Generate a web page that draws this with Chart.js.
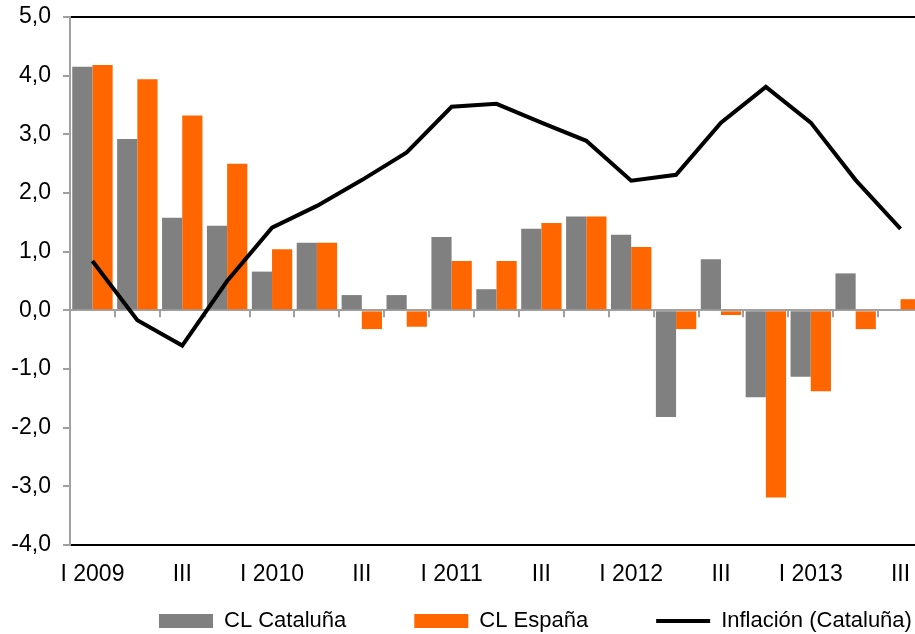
<!DOCTYPE html>
<html>
<head>
<meta charset="utf-8">
<script src="https://cdn.jsdelivr.net/npm/chart.js@4.4.1/dist/chart.umd.min.js"></script>
<style>
  html, body { margin: 0; padding: 0; background: #fff; overflow: hidden; }
  #wrap { position: relative; width: 930px; height: 634px; }
</style>
</head>
<body>
<div id="wrap"><canvas id="c"></canvas></div>
<script>
const quarters = ['I 2009','II 2009','III 2009','IV 2009','I 2010','II 2010','III 2010','IV 2010',
  'I 2011','II 2011','III 2011','IV 2011','I 2012','II 2012','III 2012','IV 2012','I 2013','II 2013','III 2013'];
const xTickLabels = ['I 2009','','III','','I 2010','','III','','I 2011','','III','','I 2012','','III','','I 2013','','III'];
const clCatalunya = [4.15, 2.92, 1.58, 1.44, 0.66, 1.15, 0.26, 0.26, 1.25, 0.36, 1.39, 1.60, 1.29, -1.82, 0.87, -1.48, -1.13, 0.63, 0.0];
const clEspana = [4.18, 3.94, 3.32, 2.50, 1.04, 1.15, -0.32, -0.28, 0.84, 0.84, 1.49, 1.60, 1.08, -0.32, -0.08, -3.19, -1.38, -0.32, 0.19];
const inflacion = [0.84, -0.17, -0.60, 0.50, 1.41, 1.78, 2.22, 2.69, 3.47, 3.52, 3.20, 2.89, 2.21, 2.31, 3.20, 3.81, 3.20, 2.22, 1.39];
const seriesNames = ['CL Cataluña', 'CL España', 'Inflación (Cataluña)'];
const yMin = -4, yMax = 5, yStep = 1;

const FONT = "'Liberation Sans', Arial, sans-serif";
Chart.defaults.font.family = FONT;
Chart.defaults.color = '#000';

const AXIS_GRAY = '#A0A0A0';

const zeroTicks = {
  id: 'zeroTicks',
  beforeDatasetsDraw(chart) {
    const xs = chart.scales.x, ys = chart.scales.y, ctx = chart.ctx;
    const y0 = ys.getPixelForValue(0);
    ctx.save();
    ctx.strokeStyle = AXIS_GRAY;
    ctx.lineWidth = 2;
    for (let i = 1; i <= quarters.length; i++) {
      const px = Math.round(xs.getPixelForValue(i - 0.5));
      ctx.beginPath();
      ctx.moveTo(px, y0);
      ctx.lineTo(px, y0 + 7);
      ctx.stroke();
    }
    ctx.restore();
  }
};

const legendPlace = {
  id: 'legendPlace',
  afterLayout(chart) {
    const lg = chart.legend;
    if (!lg) return;
    lg.left = 91; lg.right = chart.width + 400;
    lg.top = 542; lg.bottom = chart.height;
  }
};

new Chart(document.getElementById('c'), {
  data: {
    labels: quarters,
    datasets: [
      { type: 'bar', label: seriesNames[0], data: clCatalunya, backgroundColor: '#808080',
        categoryPercentage: 0.9, barPercentage: 1.0, order: 1 },
      { type: 'bar', label: seriesNames[1], data: clEspana, backgroundColor: '#FF6600',
        categoryPercentage: 0.9, barPercentage: 1.0, order: 1 },
      { type: 'line', label: seriesNames[2], data: inflacion, borderColor: '#000', backgroundColor: '#000',
        borderWidth: 4, pointRadius: 0, tension: 0, fill: false, order: 0 }
    ]
  },
  options: {
    responsive: true,
    maintainAspectRatio: false,
    animation: false,
    layout: { padding: { top: 17, right: 7, left: 0, bottom: 0 } },
    plugins: {
      tooltip: { enabled: false },
      legend: {
        position: 'bottom',
        align: 'start',
        maxHeight: 40,
        labels: {
          usePointStyle: true,
          pointStyleWidth: 54,
          boxHeight: 14,
          padding: 68,
          color: '#000',
          font: { size: 22, family: FONT },
          generateLabels(chart) {
            const items = Chart.defaults.plugins.legend.labels.generateLabels(chart);
            items.forEach(it => {
              const ds = chart.data.datasets[it.datasetIndex];
              if (ds.type === 'line') {
                it.pointStyle = 'line';
                it.lineWidth = 4;
                it.strokeStyle = '#000';
              } else {
                it.pointStyle = 'rect';
                it.lineWidth = 0;
              }
            });
            return items.sort((a, b) => a.datasetIndex - b.datasetIndex);
          }
        }
      }
    },
    scales: {
      x: {
        offset: true,
        grid: { display: false, drawTicks: false },
        border: { display: false },
        ticks: {
          autoSkip: false, maxRotation: 0, minRotation: 0, padding: 16,
          color: '#000', font: { size: 23, family: FONT },
          callback: (v, i) => xTickLabels[i]
        },
        afterFit(scale) { scale.height = 49; }
      },
      y: {
        min: yMin, max: yMax,
        grid: {
          color: (ctx) => {
            const v = ctx.tick && ctx.tick.value;
            if (v === 0) return AXIS_GRAY;
            if (v === yMax || v === yMin) return '#000';
            return 'rgba(0,0,0,0)';
          },
          lineWidth: 2,
          tickColor: AXIS_GRAY,
          tickWidth: 2,
          tickLength: 7
        },
        border: { color: AXIS_GRAY, width: 2 },
        ticks: {
          stepSize: yStep, padding: 12,
          color: '#000', font: { size: 23, family: FONT, lineHeight: 0.4 },
          callback: (v) => v.toFixed(1).replace('.', ',')
        },
        afterFit(scale) { scale.width = 70; }
      }
    }
  },
  plugins: [zeroTicks, legendPlace]
});
</script>
</body>
</html>
